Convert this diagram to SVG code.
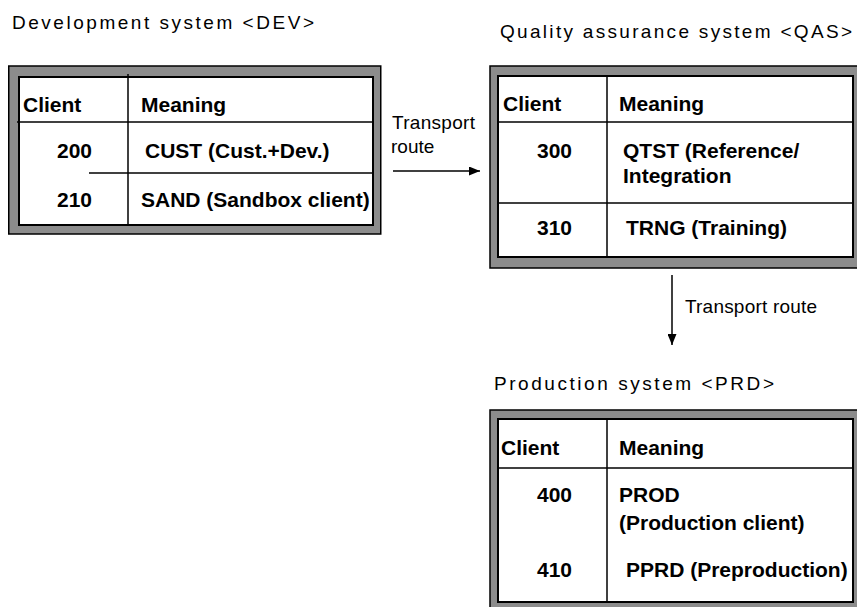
<svg xmlns="http://www.w3.org/2000/svg" width="857" height="607" viewBox="0 0 857 607">
<style>
.title{font-family:"Liberation Sans",Arial,sans-serif;font-size:19px;fill:#000}
.cell{font-family:"Liberation Sans",Arial,sans-serif;font-size:21px;font-weight:bold;fill:#000}
.frame{fill:#8c8c8c;stroke:#000;stroke-width:1.5}
.table{fill:#fff;stroke:#000;stroke-width:2}
.grid{stroke:#000;stroke-width:1.5;fill:none}
.conn{stroke:#000;stroke-width:1.5;fill:none}
</style>
<defs>
<marker id="arrow" viewBox="0 0 11 9" refX="11" refY="4.5" markerWidth="11" markerHeight="9" markerUnits="userSpaceOnUse" orient="auto">
<path d="M0,0 L11,4.5 L0,9 z" fill="#000"/>
</marker>
</defs>
<rect width="857" height="607" fill="#fff"/>

<g id="dev">
<text class="title" x="12" y="29" textLength="302" lengthAdjust="spacing">Development system &lt;DEV&gt;</text>
<rect class="frame" x="8.75" y="66" width="372" height="168"/>
<rect class="table" x="19" y="77" width="354" height="148"/>
<line class="grid" x1="128" y1="74" x2="128" y2="225"/>
<line class="grid" x1="17" y1="122" x2="373" y2="122"/>
<line class="grid" x1="89" y1="173" x2="373" y2="173"/>
<text class="cell" x="23" y="112">Client</text>
<text class="cell" x="141" y="112">Meaning</text>
<text class="cell" x="57" y="158">200</text>
<text class="cell" x="145" y="158">CUST (Cust.+Dev.)</text>
<text class="cell" x="57" y="207">210</text>
<text class="cell" x="141" y="207">SAND (Sandbox client)</text>
</g>

<g id="qas">
<text class="title" x="500" y="38" textLength="352" lengthAdjust="spacing">Quality assurance system &lt;QAS&gt;</text>
<rect class="frame" x="490" y="66" width="372" height="202"/>
<rect class="table" x="498" y="76" width="355" height="181"/>
<line class="grid" x1="607" y1="76" x2="607" y2="257"/>
<line class="grid" x1="498" y1="122" x2="853" y2="122"/>
<line class="grid" x1="498" y1="203" x2="853" y2="203"/>
<text class="cell" x="503" y="111">Client</text>
<text class="cell" x="619" y="111">Meaning</text>
<text class="cell" x="537" y="158">300</text>
<text class="cell" x="623" y="158">QTST (Reference/</text>
<text class="cell" x="623" y="183">Integration</text>
<text class="cell" x="537" y="235">310</text>
<text class="cell" x="626" y="235">TRNG (Training)</text>
</g>

<g id="prd">
<text class="title" x="494" y="390" textLength="280" lengthAdjust="spacing">Production system &lt;PRD&gt;</text>
<rect class="frame" x="490" y="410" width="372" height="202"/>
<rect class="table" x="498" y="419" width="355" height="183"/>
<line class="grid" x1="607" y1="419" x2="607" y2="602"/>
<line class="grid" x1="498" y1="468" x2="853" y2="468"/>
<text class="cell" x="501" y="455">Client</text>
<text class="cell" x="619" y="455">Meaning</text>
<text class="cell" x="537" y="502">400</text>
<text class="cell" x="619" y="502">PROD</text>
<text class="cell" x="619" y="530">(Production client)</text>
<text class="cell" x="537" y="577">410</text>
<text class="cell" x="626" y="577">PPRD (Preproduction)</text>
</g>

<g id="connectors">
<line class="conn" x1="393" y1="171" x2="480" y2="171" marker-end="url(#arrow)"/>
<line class="conn" x1="672" y1="275" x2="672" y2="345" marker-end="url(#arrow)"/>
<text class="title" x="392" y="129" textLength="83" lengthAdjust="spacing">Transport</text>
<text class="title" x="391" y="153">route</text>
<text class="title" x="685" y="313" textLength="132" lengthAdjust="spacing">Transport route</text>
</g>
</svg>
